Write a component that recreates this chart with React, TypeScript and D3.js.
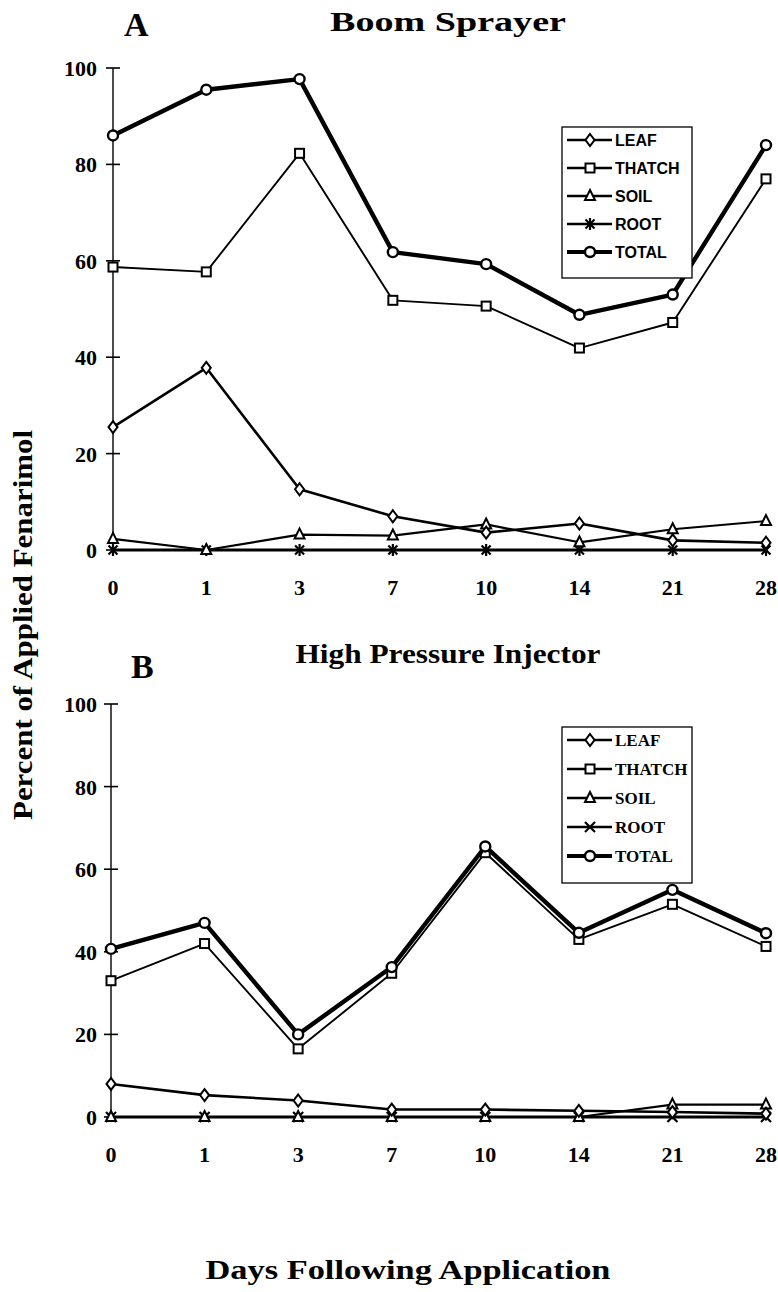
import React from "react";
import * as d3 from "d3";

const days = ["0", "1", "3", "7", "10", "14", "21", "28"];
const yTicks = [0, 20, 40, 60, 80, 100];
const seriesNames = ["LEAF", "THATCH", "SOIL", "ROOT", "TOTAL"];

const leafA = [25.5, 37.8, 12.6, 7, 3.6, 5.5, 2, 1.5];
const thatchA = [58.7, 57.7, 82.3, 51.8, 50.6, 41.9, 47.2, 77];
const soilA = [2.3, 0, 3.2, 3, 5.3, 1.6, 4.3, 6];
const rootA = [0, 0, 0, 0, 0, 0, 0, 0];
const totalA = [86, 95.5, 97.7, 61.8, 59.3, 48.8, 53, 84];

const leafB = [8, 5.3, 4, 1.8, 1.8, 1.5, 1.2, 0.8];
const thatchB = [33, 42, 16.5, 34.8, 64, 43, 51.5, 41.3];
const soilB = [0, 0, 0, 0, 0, 0, 3, 3];
const rootB = [0, 0, 0, 0, 0, 0, 0, 0];
const totalB = [40.7, 47, 20, 36.3, 65.5, 44.6, 55, 44.5];

const SERIF = "'Liberation Serif', 'DejaVu Serif', serif";
const SANS = "'Liberation Sans', Arial, sans-serif";

type MarkerKind = "diamond" | "square" | "triangle" | "asterisk" | "cross" | "circle";

function Marker({ kind, x, y }: { kind: MarkerKind; x: number; y: number }) {
  const s = "#000";
  if (kind === "diamond")
    return <path d={`M${x},${y - 6}L${x + 4.5},${y}L${x},${y + 6}L${x - 4.5},${y}Z`} fill="#fff" stroke={s} strokeWidth={2} />;
  if (kind === "square")
    return <rect x={x - 4.5} y={y - 4.5} width={9} height={9} fill="#fff" stroke={s} strokeWidth={2} />;
  if (kind === "triangle")
    return <path d={`M${x},${y - 6}L${x + 5},${y + 4}L${x - 5},${y + 4}Z`} fill="#fff" stroke={s} strokeWidth={2} />;
  if (kind === "asterisk")
    return (
      <g stroke={s} strokeWidth={2.2}>
        <line x1={x - 4.5} y1={y - 4.5} x2={x + 4.5} y2={y + 4.5} />
        <line x1={x + 4.5} y1={y - 4.5} x2={x - 4.5} y2={y + 4.5} />
        <line x1={x} y1={y - 6} x2={x} y2={y + 6} />
      </g>
    );
  if (kind === "cross")
    return (
      <g stroke={s} strokeWidth={2.2}>
        <line x1={x - 5} y1={y - 5} x2={x + 5} y2={y + 5} />
        <line x1={x + 5} y1={y - 5} x2={x - 5} y2={y + 5} />
      </g>
    );
  return <circle cx={x} cy={y} r={5} fill="#fff" stroke={s} strokeWidth={2.4} />;
}

type PanelProps = {
  letter: string;
  title: string;
  titleLen: number;
  top: number;
  bottom: number;
  axisX: number;
  titleY: number;
  letterX: number;
  letterY: number;
  series: number[][];
  rootKind: MarkerKind;
  legendX: number;
  legendY: number;
  legendRow: number;
  legendFont: string;
  legendFontSize: number;
};

const widths = [2.6, 1.9, 2.2, 2.8, 4.4];

function Panel(p: PanelProps) {
  const x = d3.scalePoint<string>().domain(days).range([p.axisX, 766]);
  const y = d3.scaleLinear().domain([0, 100]).range([p.bottom, p.top]);
  const kinds: MarkerKind[] = ["diamond", "square", "triangle", p.rootKind, "circle"];
  const line = d3
    .line<number>()
    .x((_, i) => x(days[i]) as number)
    .y((v) => y(v));
  const order = [3, 2, 0, 1, 4];
  const rowH = p.legendRow;
  return (
    <g>
      <text x={p.letterX} y={p.letterY} fontFamily={SERIF} fontWeight="bold" fontSize={34}>
        {p.letter}
      </text>
      <text
        x={448}
        y={p.titleY}
        fontFamily={SERIF}
        fontWeight="bold"
        fontSize={28}
        textAnchor="middle"
        textLength={p.titleLen}
        lengthAdjust="spacingAndGlyphs"
      >
        {p.title}
      </text>
      <line x1={p.axisX} x2={p.axisX} y1={y(100)} y2={y(0)} stroke="#000" strokeWidth={1.4} />
      {yTicks.map((t) => (
        <g key={t}>
          <line x1={p.axisX - 7} x2={p.axisX + 7} y1={y(t)} y2={y(t)} stroke="#000" strokeWidth={1.6} />
          <text x={97} y={y(t) + 8} textAnchor="end" fontFamily={SERIF} fontWeight="bold" fontSize={22}>
            {t}
          </text>
        </g>
      ))}
      {days.map((d) => (
        <text key={d} x={x(d)} y={p.bottom + 45} textAnchor="middle" fontFamily={SERIF} fontWeight="bold" fontSize={22}>
          {d}
        </text>
      ))}
      {order.map((si) => (
        <g key={si}>
          <path d={line(p.series[si]) || ""} fill="none" stroke="#000" strokeWidth={widths[si]} strokeLinejoin="round" />
          {p.series[si].map((v, i) => (
            <Marker key={i} kind={kinds[si]} x={x(days[i]) as number} y={y(v)} />
          ))}
        </g>
      ))}
      <rect x={p.legendX} y={p.legendY} width={130} height={rowH * 5 + 11} fill="#fff" stroke="#000" strokeWidth={1.3} />
      {seriesNames.map((n, i) => {
        const cy = p.legendY + 13 + i * rowH;
        return (
          <g key={n}>
            <line x1={p.legendX + 5} x2={p.legendX + 50} y1={cy} y2={cy} stroke="#000" strokeWidth={i === 4 ? 4.2 : 2.6} />
            <Marker kind={kinds[i]} x={p.legendX + 28} y={cy} />
            <text x={p.legendX + 53} y={cy + 6} fontFamily={p.legendFont} fontWeight="bold" fontSize={p.legendFontSize}>
              {n}
            </text>
          </g>
        );
      })}
    </g>
  );
}

export default function App() {
  return (
    <svg width={778} height={1292} style={{ position: "absolute", left: 0, top: 0, background: "#fff" }}>
      <rect width={778} height={1292} fill="#fff" />
      <Panel
        letter="A"
        title="Boom Sprayer"
        titleLen={236}
        top={68}
        bottom={550}
        axisX={113}
        titleY={31}
        letterX={124}
        letterY={36}
        series={[leafA, thatchA, soilA, rootA, totalA]}
        rootKind="asterisk"
        legendX={562}
        legendY={127}
        legendRow={28}
        legendFont={SANS}
        legendFontSize={16}
      />
      <Panel
        letter="B"
        title="High Pressure Injector"
        titleLen={305}
        top={704}
        bottom={1117}
        axisX={111}
        titleY={663}
        letterX={131}
        letterY={678}
        series={[leafB, thatchB, soilB, rootB, totalB]}
        rootKind="cross"
        legendX={562}
        legendY={727}
        legendRow={29}
        legendFont={SERIF}
        legendFontSize={17}
      />
      <text
        transform="translate(32,625) rotate(-90)"
        textAnchor="middle"
        fontFamily={SERIF}
        fontWeight="bold"
        fontSize={28}
        textLength={390}
        lengthAdjust="spacingAndGlyphs"
      >
        Percent of Applied Fenarimol
      </text>
      <text
        x={408}
        y={1279}
        textAnchor="middle"
        fontFamily={SERIF}
        fontWeight="bold"
        fontSize={28}
        textLength={405}
        lengthAdjust="spacingAndGlyphs"
      >
        Days Following Application
      </text>
    </svg>
  );
}
